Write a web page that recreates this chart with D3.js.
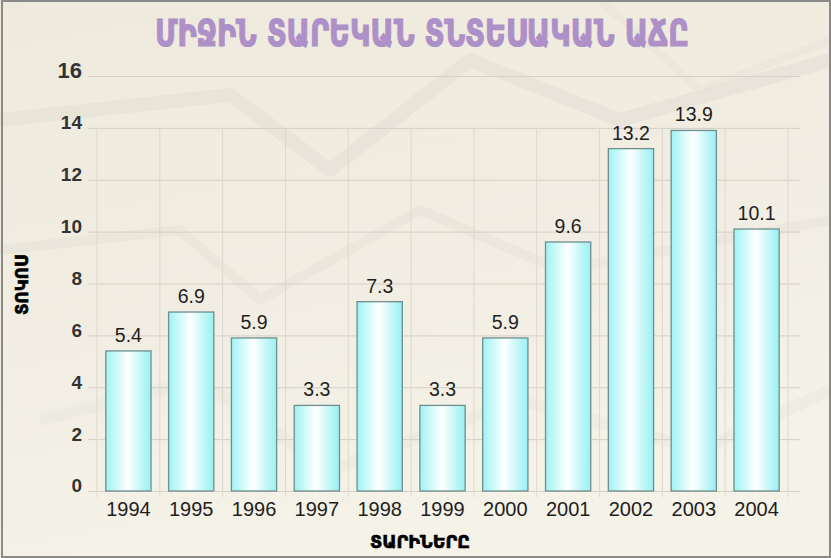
<!DOCTYPE html>
<html>
<head>
<meta charset="utf-8">
<script src="https://cdn.jsdelivr.net/npm/d3@7"></script>
<style>
  body { margin: 0; background: #fff; }
  svg { display: block; }
</style>
</head>
<body>
<svg id="svg-main"></svg>
<script>
const WIDTH = 831;
const HEIGHT = 558;

const TITLE = "ՄԻՋԻՆ ՏԱՐԵԿԱՆ ՏՆՏԵՍԱԿԱՆ ԱՃԸ";
const Y_TITLE = "ՏՈԿՈՍ";
const X_TITLE = "ՏԱՐԻՆԵՐԸ";

const years = ["1994", "1995", "1996", "1997", "1998", "1999", "2000", "2001", "2002", "2003", "2004"];
const growth = [5.4, 6.9, 5.9, 3.3, 7.3, 3.3, 5.9, 9.6, 13.2, 13.9, 10.1];
const yTicks = [0, 2, 4, 6, 8, 10, 12, 14, 16];

var Dims = {
    Plot: { Left: 97, Right: 788, Top: 76, Bottom: 491 }
};

var svg = d3.select("#svg-main")
    .attr("width", WIDTH)
    .attr("height", HEIGHT);

var defs = svg.append("defs");

var bg = defs.append("linearGradient")
    .attr("id", "bg-grad")
    .attr("x1", 0).attr("y1", 0).attr("x2", 0.3).attr("y2", 1);
bg.append("stop").attr("offset", "0%").attr("stop-color", "#eeeadd");
bg.append("stop").attr("offset", "55%").attr("stop-color", "#f1ede2");
bg.append("stop").attr("offset", "100%").attr("stop-color", "#f5f2e8");

var barGrad = defs.append("linearGradient")
    .attr("id", "bar-grad")
    .attr("x1", 0).attr("y1", 0).attr("x2", 1).attr("y2", 0);
barGrad.append("stop").attr("offset", "0%").attr("stop-color", "#9ff3f3");
barGrad.append("stop").attr("offset", "48%").attr("stop-color", "#ffffff");
barGrad.append("stop").attr("offset", "100%").attr("stop-color", "#98f0f2");

drawChart();

function drawChart() {
    renderBackground();

    var x = d3.scaleBand()
        .domain(years)
        .range([Dims.Plot.Left, Dims.Plot.Right])
        .paddingInner(0.28)
        .paddingOuter(0.14);

    var y = d3.scaleLinear()
        .domain([0, 16])
        .range([Dims.Plot.Bottom, Dims.Plot.Top]);

    // horizontal gridlines + y labels
    var yAxis = d3.axisLeft(y)
        .tickValues(yTicks)
        .tickSize(-(800 - 88))
        .tickPadding(6)
        .tickFormat(d3.format("d"));

    var yg = svg.append("g")
        .attr("transform", `translate(88,0)`)
        .call(yAxis);
    yg.select(".domain").remove();
    yg.selectAll(".tick line")
        .attr("stroke", "#d4cfc4")
        .attr("stroke-width", 1);
    yg.selectAll(".tick text")
        .attr("x", -6)
        .attr("dy", "0.05em")
        .attr("fill", "#333")
        .attr("font-family", "Liberation Sans, Arial, sans-serif")
        .attr("font-weight", "bold")
        .attr("font-size", d => d === 16 ? 22 : 19);

    // vertical gridlines at category boundaries
    var step = x.step();
    var bounds = d3.range(years.length + 1).map(i => Dims.Plot.Left + i * step);
    svg.append("g")
        .selectAll("line")
        .data(bounds)
        .enter()
        .append("line")
        .attr("x1", d => d).attr("x2", d => d)
        .attr("y1", y(14))
        .attr("y2", Dims.Plot.Bottom + 6)
        .attr("stroke", "#ddd8cd")
        .attr("stroke-width", 1);

    // bars
    svg.append("g")
        .selectAll("rect")
        .data(growth)
        .enter()
        .append("rect")
        .attr("x", (d, i) => x(years[i]))
        .attr("y", d => y(d))
        .attr("width", x.bandwidth())
        .attr("height", d => y(0) - y(d))
        .attr("fill", "url(#bar-grad)")
        .attr("stroke", "#6e8e8f")
        .attr("stroke-width", 1.3);

    // value labels
    svg.append("g")
        .selectAll("text")
        .data(growth)
        .enter()
        .append("text")
        .attr("x", (d, i) => x(years[i]) + x.bandwidth() / 2)
        .attr("y", d => y(d) - 9)
        .attr("text-anchor", "middle")
        .attr("fill", "#1e1e1e")
        .attr("font-family", "Liberation Sans, Arial, sans-serif")
        .attr("font-size", 19.5)
        .text(d => d3.format(".1f")(d));

    // x labels
    var xAxis = d3.axisBottom(x).tickSize(0).tickPadding(11);
    var xg = svg.append("g")
        .attr("transform", `translate(0,${Dims.Plot.Bottom})`)
        .call(xAxis);
    xg.select(".domain").remove();
    xg.selectAll(".tick text")
        .attr("fill", "#1e1e1e")
        .attr("font-family", "Liberation Sans, Arial, sans-serif")
        .attr("font-size", 20);

    // titles, squeezed horizontally to the reference width
    fitText(TITLE, 422, 46, 0, 534, 38, "#ae90c8", 1.2);
    fitText(Y_TITLE, 28, 285, -90, 60, 18, "#000", 0.6);
    fitText(X_TITLE, 420, 548, 0, 100, 18, "#000", 0.6);
}

function fitText(str, cx, cy, rot, width, size, color, sw) {
    var t = svg.append("text")
        .attr("text-anchor", "middle")
        .attr("fill", color)
        .attr("stroke", color)
        .attr("stroke-width", sw)
        .attr("font-family", "DejaVu Sans, sans-serif")
        .attr("font-weight", "bold")
        .attr("font-size", size)
        .text(str);
    var len = t.node().getComputedTextLength();
    var sx = len > 0 ? width / len : 1;
    t.attr("transform", `translate(${cx},${cy}) rotate(${rot}) scale(${sx},1)`);
    return t;
}

function renderBackground() {
    svg.append("rect")
        .attr("width", WIDTH)
        .attr("height", HEIGHT)
        .attr("fill", "url(#bg-grad)");

    // faint paper/chart texture in the backdrop
    var deco = svg.append("g").attr("fill", "none");
    var shapes = [
        { d: "M0,120 L230,95 L330,170 L470,60 L620,120 L831,60", c: "#ddd8cc", w: 14 },
        { d: "M0,250 L180,230 L260,300 L420,210 L560,270 L831,220", c: "#e2ddd2", w: 10 },
        { d: "M40,420 L200,380 L330,470 L520,400 L700,450 L831,390", c: "#e6e1d7", w: 12 },
        { d: "M600,0 L700,90 L831,40", c: "#e4dfd4", w: 8 }
    ];
    deco.selectAll("path")
        .data(shapes)
        .enter()
        .append("path")
        .attr("d", d => d.d)
        .attr("stroke", d => d.c)
        .attr("stroke-width", d => d.w)
        .attr("stroke-linejoin", "round")
        .attr("opacity", 0.35);

    svg.append("rect")
        .attr("x", 2).attr("y", 1)
        .attr("width", WIDTH - 3)
        .attr("height", HEIGHT - 2)
        .attr("fill", "none")
        .attr("stroke", "#8a8a88")
        .attr("stroke-width", 2);
}
</script>
</body>
</html>
